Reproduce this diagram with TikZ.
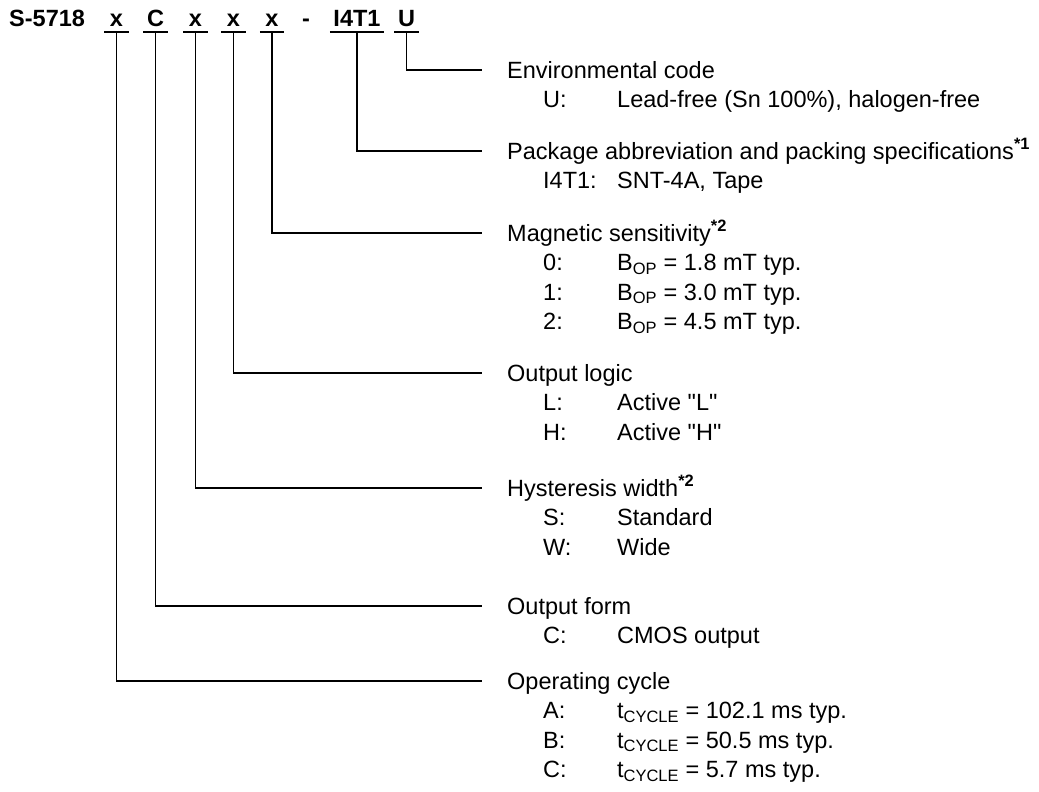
\documentclass[tikz,border=0pt]{standalone}
\usepackage{fontspec}
\setmainfont{Liberation Sans}[Ligatures=TeXOff]
\usetikzlibrary{positioning}
\newcommand{\pnfont}{\fontsize{23.5pt}{28pt}\selectfont}
\newcommand{\supnote}[1]{\textsuperscript{\bfseries #1}}

\begin{document}
\begin{tikzpicture}[x=1pt, y=-1pt,
    code/.style={font=\pnfont\bfseries, anchor=base, inner ysep=0pt, inner xsep=3.5pt,
                 minimum width=24pt, text height=17pt, text depth=5pt},
    lbl/.style={font=\pnfont, anchor=base west, inner sep=0pt},
    lead/.style={line width=1.5pt}]
    \useasboundingbox (0,0) rectangle (1039,792);

    % part number
    \node[lbl] (pn) at (9,27) {\bfseries S-5718};
    \node[code] (cCyc) at (116.5,27) {x};
    \node[code] (cOut) at (155.5,27) {C};
    \node[code] (cHys) at (195.5,27) {x};
    \node[code] (cLog) at (233.5,27) {x};
    \node[code] (cMag) at (272,27) {x};
    \node[code, minimum width=0pt] (dash) at (306,27) {-};
    \node[code] (cPkg) at (357,27) {I4T1};
    \node[code] (cEnv) at (406.5,27) {U};
    \foreach \c in {cCyc,cOut,cHys,cLog,cMag,cPkg,cEnv}
        \draw[lead] (\c.south west) -- (\c.south east);

    % ends of the leader lines
    \coordinate (eEnv) at (482,70);
    \coordinate (ePkg) at (482,151);
    \coordinate (eMag) at (482,233);
    \coordinate (eLog) at (482,373);
    \coordinate (eHys) at (482,488);
    \coordinate (eOut) at (482,606);
    \coordinate (eCyc) at (482,681);

    \draw[lead] (cEnv.south) |- (eEnv);
    \draw[lead] (cPkg.south) |- (ePkg);
    \draw[lead] (cMag.south) |- (eMag);
    \draw[lead] (cLog.south) |- (eLog);
    \draw[lead] (cHys.south) |- (eHys);
    \draw[lead] (cOut.south) |- (eOut);
    \draw[lead] (cCyc.south) |- (eCyc);

    % environmental code
    \node[lbl] (lEnv) at ([shift={(25,8)}]eEnv) {Environmental code};
    \node[lbl] (envU) at ([shift={(36,29.5)}]lEnv.base west) {U:};
    \node[lbl] (envUt) at ([xshift=74]envU.base west) {Lead-free (Sn 100\%), halogen-free};

    % package
    \node[lbl] (lPkg) at ([shift={(25,8)}]ePkg) {Package abbreviation and packing specifications\supnote{*1}};
    \node[lbl] (pkgA) at ([shift={(36,29.5)}]lPkg.base west) {I4T1:};
    \node[lbl] (pkgAt) at ([xshift=74]pkgA.base west) {SNT-4A, Tape};

    % magnetic sensitivity
    \node[lbl] (lMag) at ([shift={(25,8)}]eMag) {Magnetic sensitivity\supnote{*2}};
    \node[lbl] (mag0) at ([shift={(36,29.5)}]lMag.base west) {0:};
    \node[lbl] (mag0t) at ([xshift=74]mag0.base west) {B\textsubscript{OP} = 1.8 mT typ.};
    \node[lbl] (mag1) at ([yshift=-29.5]mag0.base west) {1:};
    \node[lbl] (mag1t) at ([xshift=74]mag1.base west) {B\textsubscript{OP} = 3.0 mT typ.};
    \node[lbl] (mag2) at ([yshift=-29.5]mag1.base west) {2:};
    \node[lbl] (mag2t) at ([xshift=74]mag2.base west) {B\textsubscript{OP} = 4.5 mT typ.};

    % output logic
    \node[lbl] (lLog) at ([shift={(25,8)}]eLog) {Output logic};
    \node[lbl] (logL) at ([shift={(36,29.5)}]lLog.base west) {L:};
    \node[lbl] (logLt) at ([xshift=74]logL.base west) {Active "L"};
    \node[lbl] (logH) at ([yshift=-29.5]logL.base west) {H:};
    \node[lbl] (logHt) at ([xshift=74]logH.base west) {Active "H"};

    % hysteresis width
    \node[lbl] (lHys) at ([shift={(25,8)}]eHys) {Hysteresis width\supnote{*2}};
    \node[lbl] (hysS) at ([shift={(36,29.5)}]lHys.base west) {S:};
    \node[lbl] (hysSt) at ([xshift=74]hysS.base west) {Standard};
    \node[lbl] (hysW) at ([yshift=-29.5]hysS.base west) {W:};
    \node[lbl] (hysWt) at ([xshift=74]hysW.base west) {Wide};

    % output form
    \node[lbl] (lOut) at ([shift={(25,8)}]eOut) {Output form};
    \node[lbl] (outC) at ([shift={(36,29.5)}]lOut.base west) {C:};
    \node[lbl] (outCt) at ([xshift=74]outC.base west) {CMOS output};

    % operating cycle
    \node[lbl] (lCyc) at ([shift={(25,8)}]eCyc) {Operating cycle};
    \node[lbl] (cycA) at ([shift={(36,29.5)}]lCyc.base west) {A:};
    \node[lbl] (cycAt) at ([xshift=74]cycA.base west) {t\textsubscript{CYCLE} = 102.1 ms typ.};
    \node[lbl] (cycB) at ([yshift=-29.5]cycA.base west) {B:};
    \node[lbl] (cycBt) at ([xshift=74]cycB.base west) {t\textsubscript{CYCLE} = 50.5 ms typ.};
    \node[lbl] (cycC) at ([yshift=-29.5]cycB.base west) {C:};
    \node[lbl] (cycCt) at ([xshift=74]cycC.base west) {t\textsubscript{CYCLE} = 5.7 ms typ.};
\end{tikzpicture}
\end{document}
